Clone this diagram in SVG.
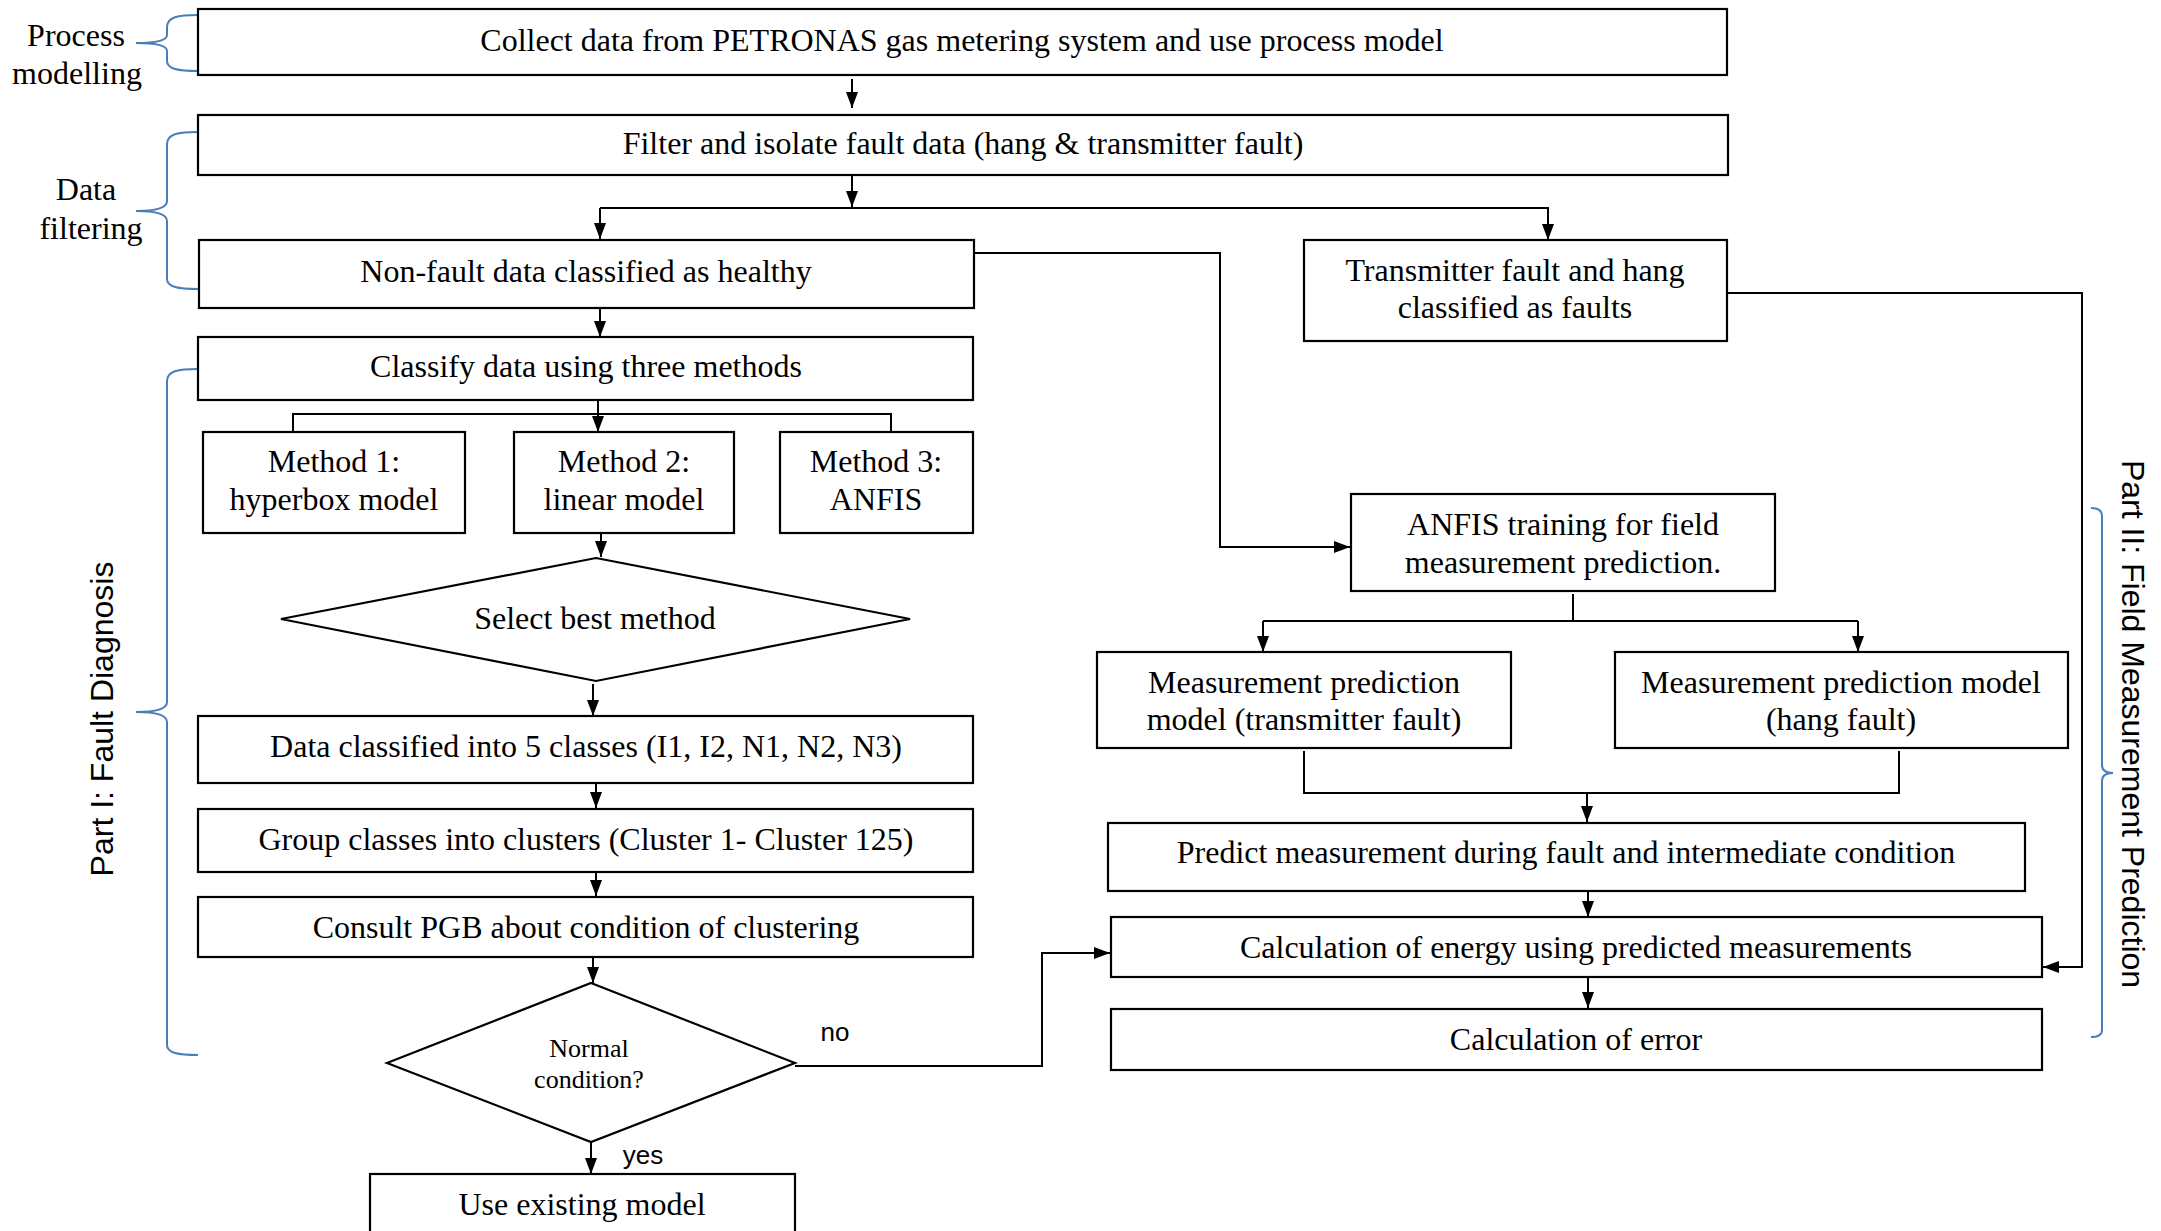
<svg xmlns="http://www.w3.org/2000/svg" width="2161" height="1231" viewBox="0 0 2161 1231">
<style>
.box{fill:#fff;stroke:#000;stroke-width:2.2}
.t{font-family:"Liberation Serif","Times New Roman",serif;font-size:32px;fill:#000;text-anchor:middle}
.ts{font-family:"Liberation Serif","Times New Roman",serif;font-size:26px;fill:#000;text-anchor:middle}
.s{font-family:"Liberation Sans",Arial,sans-serif;fill:#000}
.c{fill:none;stroke:#000;stroke-width:2}
.br{fill:none;stroke:#4A7EBB;stroke-width:2}
</style>
<defs>
<marker id="ah" markerUnits="userSpaceOnUse" markerWidth="16" markerHeight="16" viewBox="0 0 16 16" refX="16" refY="8" orient="auto">
<path d="M0,2 L16,8 L0,14 Z" fill="#000"/>
</marker>
</defs>
<rect width="2161" height="1231" fill="#fff"/>

<g id="brackets">
<path class="br" d="M198,15 C178,15 167,17 167,27 L167,35 C167,41 155,43 136,43 C155,43 167,45 167,51 L167,61 C167,69 178,71 198,71"/>
<path class="br" d="M198,132 C178,132 167,134 167,144 L167,201 C167,208 155,211 136,211 C155,211 167,214 167,221 L167,279 C167,287 178,289 198,289"/>
<path class="br" d="M198,369 C178,369 167,371 167,381 L167,702 C167,709 155,712 136,712 C155,712 167,715 167,722 L167,1045 C167,1053 178,1055 198,1055"/>
<path class="br" d="M2091,508 C2098,508 2102,510 2102,516 L2102,765 C2102,771 2106,773 2113,773 C2106,773 2102,775 2102,781 L2102,1030 C2102,1035 2098,1037 2091,1037"/>
<text class="t" x="76" y="46">Process</text>
<text class="t" x="77" y="84">modelling</text>
<text class="t" x="86" y="200">Data</text>
<text class="t" x="91" y="239">filtering</text>
<text class="s" font-size="32" text-anchor="middle" transform="translate(113,719) rotate(-90)">Part I: Fault Diagnosis</text>
<text class="s" font-size="32" text-anchor="middle" transform="translate(2122,724) rotate(90)">Part II: Field Measurement Prediction</text>
</g>

<g id="connectors">
<path class="c" d="M852,79 L852,108" marker-end="url(#ah)"/>
<path class="c" d="M852,176 L852,207" marker-end="url(#ah)"/>
<path class="c" d="M600,208 L1549,208"/>
<path class="c" d="M600,208 L600,239" marker-end="url(#ah)"/>
<path class="c" d="M1548,208 L1548,240" marker-end="url(#ah)"/>
<path class="c" d="M974,253 L1220,253 L1220,547 L1350,547" marker-end="url(#ah)"/>
<path class="c" d="M1727,293 L2082,293 L2082,967 L2043,967" marker-end="url(#ah)"/>
<path class="c" d="M600,308 L600,337" marker-end="url(#ah)"/>
<path class="c" d="M598,400 L598,432" marker-end="url(#ah)"/>
<path class="c" d="M293,433 L293,414 L891,414 L891,433"/>
<path class="c" d="M601,533 L601,557" marker-end="url(#ah)"/>
<path class="c" d="M593,684 L593,716" marker-end="url(#ah)"/>
<path class="c" d="M596,783 L596,808" marker-end="url(#ah)"/>
<path class="c" d="M596,872 L596,896" marker-end="url(#ah)"/>
<path class="c" d="M593,957 L593,983" marker-end="url(#ah)"/>
<path class="c" d="M591,1142 L591,1174" marker-end="url(#ah)"/>
<path class="c" d="M795,1066 L1042,1066 L1042,953 L1110,953" marker-end="url(#ah)"/>
<path class="c" d="M1573,594 L1573,621"/>
<path class="c" d="M1263,621 L1858,621"/>
<path class="c" d="M1263,621 L1263,652" marker-end="url(#ah)"/>
<path class="c" d="M1858,621 L1858,652" marker-end="url(#ah)"/>
<path class="c" d="M1304,751 L1304,793 L1899,793 L1899,751"/>
<path class="c" d="M1587,793 L1587,822" marker-end="url(#ah)"/>
<path class="c" d="M1588,891 L1588,917" marker-end="url(#ah)"/>
<path class="c" d="M1588,977 L1588,1008" marker-end="url(#ah)"/>
<text class="s" font-size="26" x="835" y="1041" text-anchor="middle">no</text>
<text class="s" font-size="26" x="643" y="1164" text-anchor="middle">yes</text>
</g>

<g id="n-collect"><rect class="box" x="198" y="9" width="1529" height="66"/><text class="t" x="962" y="51">Collect data from PETRONAS gas metering system and use process model</text></g>
<g id="n-filter"><rect class="box" x="198" y="115" width="1530" height="60"/><text class="t" x="963" y="154">Filter and isolate fault data (hang &amp; transmitter fault)</text></g>
<g id="n-nonfault"><rect class="box" x="199" y="240" width="775" height="68"/><text class="t" x="586" y="282">Non-fault data classified as healthy</text></g>
<g id="n-transfault"><rect class="box" x="1304" y="240" width="423" height="101"/><text class="t" x="1515" y="281">Transmitter fault and hang</text><text class="t" x="1515" y="318">classified as faults</text></g>
<g id="n-classify"><rect class="box" x="198" y="337" width="775" height="63"/><text class="t" x="586" y="377">Classify data using three methods</text></g>
<g id="n-m1"><rect class="box" x="203" y="432" width="262" height="101"/><text class="t" x="334" y="472">Method 1:</text><text class="t" x="334" y="510">hyperbox model</text></g>
<g id="n-m2"><rect class="box" x="514" y="432" width="220" height="101"/><text class="t" x="624" y="472">Method 2:</text><text class="t" x="624" y="510">linear model</text></g>
<g id="n-m3"><rect class="box" x="780" y="432" width="193" height="101"/><text class="t" x="876" y="472">Method 3:</text><text class="t" x="876" y="510">ANFIS</text></g>
<g id="n-select"><polygon class="box" points="596,558 910,619 596,681 281,619"/><text class="t" x="595" y="629">Select best method</text></g>
<g id="n-5classes"><rect class="box" x="198" y="716" width="775" height="67"/><text class="t" x="586" y="757">Data classified into 5 classes (I1, I2, N1, N2, N3)</text></g>
<g id="n-group"><rect class="box" x="198" y="809" width="775" height="63"/><text class="t" x="586" y="850">Group classes into clusters (Cluster 1- Cluster 125)</text></g>
<g id="n-consult"><rect class="box" x="198" y="897" width="775" height="60"/><text class="t" x="586" y="938">Consult PGB about condition of clustering</text></g>
<g id="n-normal"><polygon class="box" points="591,983 795,1063 591,1142 387,1063"/><text class="ts" x="589" y="1057">Normal</text><text class="ts" x="589" y="1088">condition?</text></g>
<g id="n-existing"><rect class="box" x="370" y="1174" width="425" height="70"/><text class="t" x="582" y="1215">Use existing model</text></g>
<g id="n-anfis"><rect class="box" x="1351" y="494" width="424" height="97"/><text class="t" x="1563" y="535">ANFIS training for field</text><text class="t" x="1563" y="573">measurement prediction.</text></g>
<g id="n-mpm1"><rect class="box" x="1097" y="652" width="414" height="96"/><text class="t" x="1304" y="693">Measurement prediction</text><text class="t" x="1304" y="730">model (transmitter fault)</text></g>
<g id="n-mpm2"><rect class="box" x="1615" y="652" width="453" height="96"/><text class="t" x="1841" y="693">Measurement prediction model</text><text class="t" x="1841" y="730">(hang fault)</text></g>
<g id="n-predict"><rect class="box" x="1108" y="823" width="917" height="68"/><text class="t" x="1566" y="863">Predict measurement during fault and intermediate condition</text></g>
<g id="n-energy"><rect class="box" x="1111" y="917" width="931" height="60"/><text class="t" x="1576" y="958">Calculation of energy using predicted measurements</text></g>
<g id="n-error"><rect class="box" x="1111" y="1009" width="931" height="61"/><text class="t" x="1576" y="1050">Calculation of error</text></g>
</svg>
